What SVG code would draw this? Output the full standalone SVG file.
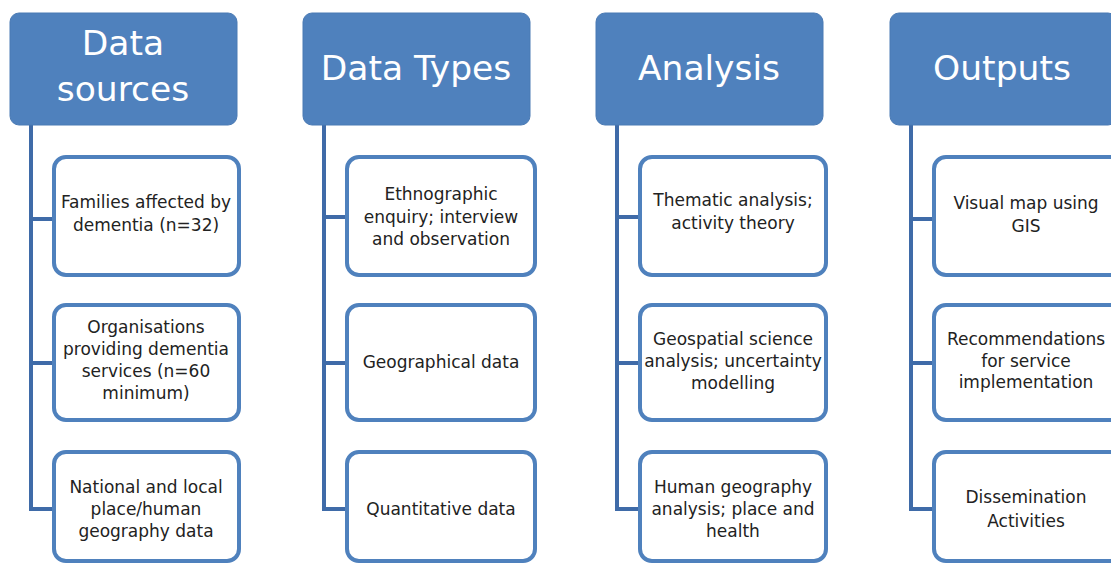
<svg xmlns="http://www.w3.org/2000/svg" width="1111" height="564" viewBox="0 0 1111 564">
<style>
.hdr{fill:#4f81bd;stroke:#4a7ab4;stroke-width:1}
.ht{font-family:"DejaVu Sans",sans-serif;font-size:34.5px;fill:#ffffff;text-anchor:middle}
.box{fill:#ffffff;stroke:#4f81bd;stroke-width:4}
.bt{font-family:"DejaVu Sans",sans-serif;font-size:17px;fill:#222222;text-anchor:middle}
.con{fill:none;stroke:#3f6ba8;stroke-width:4}
</style>
<rect width="1111" height="564" fill="#ffffff"/>
<g id="connectors">
<path class="con" d="M31 125V511M31 219H52M31 363H52M31 509H52"/>
<path class="con" d="M324 125V511M324 217H345M324 363H345M324 509H345"/>
<path class="con" d="M617 125V511M617 217H638M617 363H638M617 509H638"/>
<path class="con" d="M911 125V511M911 219H932M911 363H932M911 509H932"/>
</g>
<g id="h1"><rect class="hdr" x="10" y="13" width="227" height="112" rx="9"/><text class="ht" x="123" y="55">Data</text><text class="ht" x="123" y="101">sources</text></g>
<g id="h2"><rect class="hdr" x="303" y="13" width="227" height="112" rx="9"/><text class="ht" x="416" y="80">Data Types</text></g>
<g id="h3"><rect class="hdr" x="596" y="13" width="227" height="112" rx="9"/><text class="ht" x="709" y="80">Analysis</text></g>
<g id="h4"><rect class="hdr" x="890" y="13" width="227" height="112" rx="9"/><text class="ht" x="1002" y="80">Outputs</text></g>

<g id="c1b1"><rect class="box" x="54" y="157" width="185" height="118" rx="12"/><text class="bt" x="146" y="208">Families affected by</text><text class="bt" x="146" y="231">dementia (n=32)</text></g>
<g id="c1b2"><rect class="box" x="54" y="305" width="185" height="115" rx="12"/><text class="bt" x="146" y="333">Organisations</text><text class="bt" x="146" y="355">providing dementia</text><text class="bt" x="146" y="377">services (n=60</text><text class="bt" x="146" y="399">minimum)</text></g>
<g id="c1b3"><rect class="box" x="54" y="452" width="185" height="109" rx="12"/><text class="bt" x="146" y="493">National and local</text><text class="bt" x="146" y="515">place/human</text><text class="bt" x="146" y="537">geography data</text></g>

<g id="c2b1"><rect class="box" x="347" y="157" width="188" height="118" rx="12"/><text class="bt" x="441" y="200">Ethnographic</text><text class="bt" x="441" y="223">enquiry; interview</text><text class="bt" x="441" y="245">and observation</text></g>
<g id="c2b2"><rect class="box" x="347" y="305" width="188" height="115" rx="12"/><text class="bt" x="441" y="368">Geographical data</text></g>
<g id="c2b3"><rect class="box" x="347" y="452" width="188" height="109" rx="12"/><text class="bt" x="441" y="515">Quantitative data</text></g>

<g id="c3b1"><rect class="box" x="640" y="157" width="186" height="118" rx="12"/><text class="bt" x="733" y="206">Thematic analysis;</text><text class="bt" x="733" y="229">activity theory</text></g>
<g id="c3b2"><rect class="box" x="640" y="305" width="186" height="115" rx="12"/><text class="bt" x="733" y="345">Geospatial science</text><text class="bt" x="733" y="367">analysis; uncertainty</text><text class="bt" x="733" y="389">modelling</text></g>
<g id="c3b3"><rect class="box" x="640" y="452" width="186" height="109" rx="12"/><text class="bt" x="733" y="493">Human geography</text><text class="bt" x="733" y="515">analysis; place and</text><text class="bt" x="733" y="537">health</text></g>

<g id="c4b1"><rect class="box" x="934" y="157" width="188" height="118" rx="12"/><text class="bt" x="1026" y="209">Visual map using</text><text class="bt" x="1026" y="232">GIS</text></g>
<g id="c4b2"><rect class="box" x="934" y="305" width="188" height="115" rx="12"/><text class="bt" x="1026" y="345">Recommendations</text><text class="bt" x="1026" y="367">for service</text><text class="bt" x="1026" y="388">implementation</text></g>
<g id="c4b3"><rect class="box" x="934" y="452" width="188" height="109" rx="12"/><text class="bt" x="1026" y="503">Dissemination</text><text class="bt" x="1026" y="527">Activities</text></g>
</svg>
